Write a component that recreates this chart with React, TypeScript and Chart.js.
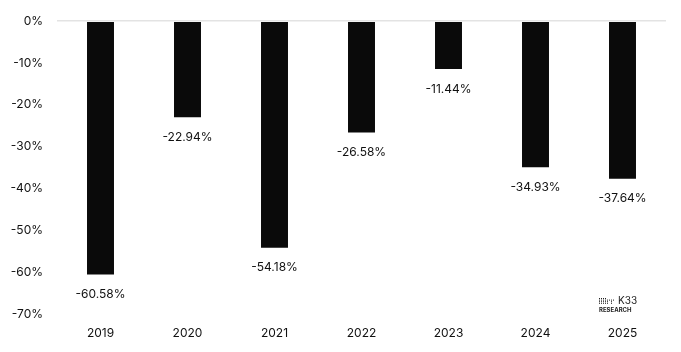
import React, { useEffect, useRef } from "react";
import { Chart, registerables } from "chart.js";

Chart.register(...registerables);

const categories = ["2019", "2020", "2021", "2022", "2023", "2024", "2025"];
const drawdowns = [-60.58, -22.94, -54.18, -26.58, -11.44, -34.93, -37.64];
const yTicks = [0, -10, -20, -30, -40, -50, -60, -70];

const FONT = "Inter, 'Open Sans', sans-serif";

const labelPlugin = {
  id: "barLabels",
  afterDatasetsDraw(chart: any) {
    const ctx = chart.ctx;
    const meta = chart.getDatasetMeta(0);
    ctx.save();
    ctx.font = `12px ${FONT}`;
    ctx.fillStyle = "#111";
    ctx.textAlign = "center";
    ctx.textBaseline = "middle";
    meta.data.forEach((el: any, i: number) => {
      ctx.fillText(drawdowns[i].toFixed(2) + "%", el.x, el.y + 20);
    });
    ctx.restore();
  },
};

const logoPlugin = {
  id: "logo",
  afterDraw(chart: any) {
    const ctx = chart.ctx;
    const x0 = 599;
    const y0 = 298;
    ctx.save();
    ctx.fillStyle = "#222";
    for (let r = 0; r < 4; r++) {
      for (let c = 0; c < 8; c++) {
        if (c >= 4 && r === 0) continue;
        if (c >= 4 && (c % 2 === 1) && r > 1) continue;
        ctx.fillRect(x0 + c * 2, y0 + r * 1.6, 1, 1);
      }
    }
    ctx.font = `10px ${FONT}`;
    ctx.textBaseline = "middle";
    ctx.textAlign = "left";
    ctx.fillText("K33", 618, 301);
    ctx.font = `bold 6px ${FONT}`;
    ctx.fillText("RESEARCH", 599, 310);
    ctx.restore();
  },
};

export default function App() {
  const ref = useRef<HTMLCanvasElement>(null);
  useEffect(() => {
    document.body.style.margin = "0";
    const chart = new Chart(ref.current!, {
      type: "bar",
      data: {
        labels: categories,
        datasets: [
          {
            data: drawdowns,
            backgroundColor: "#0a0a0a",
            barPercentage: 0.31,
            categoryPercentage: 1,
          },
        ],
      },
      options: {
        animation: false,
        responsive: false,
        layout: { padding: { top: 20, right: 15, left: 0, bottom: 0 } },
        plugins: { legend: { display: false }, tooltip: { enabled: false } },
        scales: {
          x: {
            grid: { display: false, drawTicks: false },
            border: { display: false },
            ticks: { color: "#111", font: { family: FONT, size: 12 }, padding: 12 },
            afterFit: (s: any) => {
              s.height = 38;
            },
          },
          y: {
            min: -70,
            max: 0,
            afterBuildTicks: (s: any) => {
              s.ticks = yTicks.map((v) => ({ value: v }));
            },
            grid: {
              drawTicks: false,
              color: (c: any) => (c.tick && c.tick.value === 0 ? "#e3e3e3" : "rgba(0,0,0,0)"),
              lineWidth: 1.5,
            },
            border: { display: false },
            ticks: {
              color: "#111",
              font: { family: FONT, size: 12 },
              padding: 14,
              callback: (v: any) => v + "%",
            },
            afterFit: (s: any) => {
              s.width = 57;
            },
          },
        },
      },
      plugins: [labelPlugin, logoPlugin],
    });
    return () => chart.destroy();
  }, []);
  return (
    <div style={{ width: 681, height: 352 }}>
      <canvas ref={ref} width={681} height={352} />
    </div>
  );
}
